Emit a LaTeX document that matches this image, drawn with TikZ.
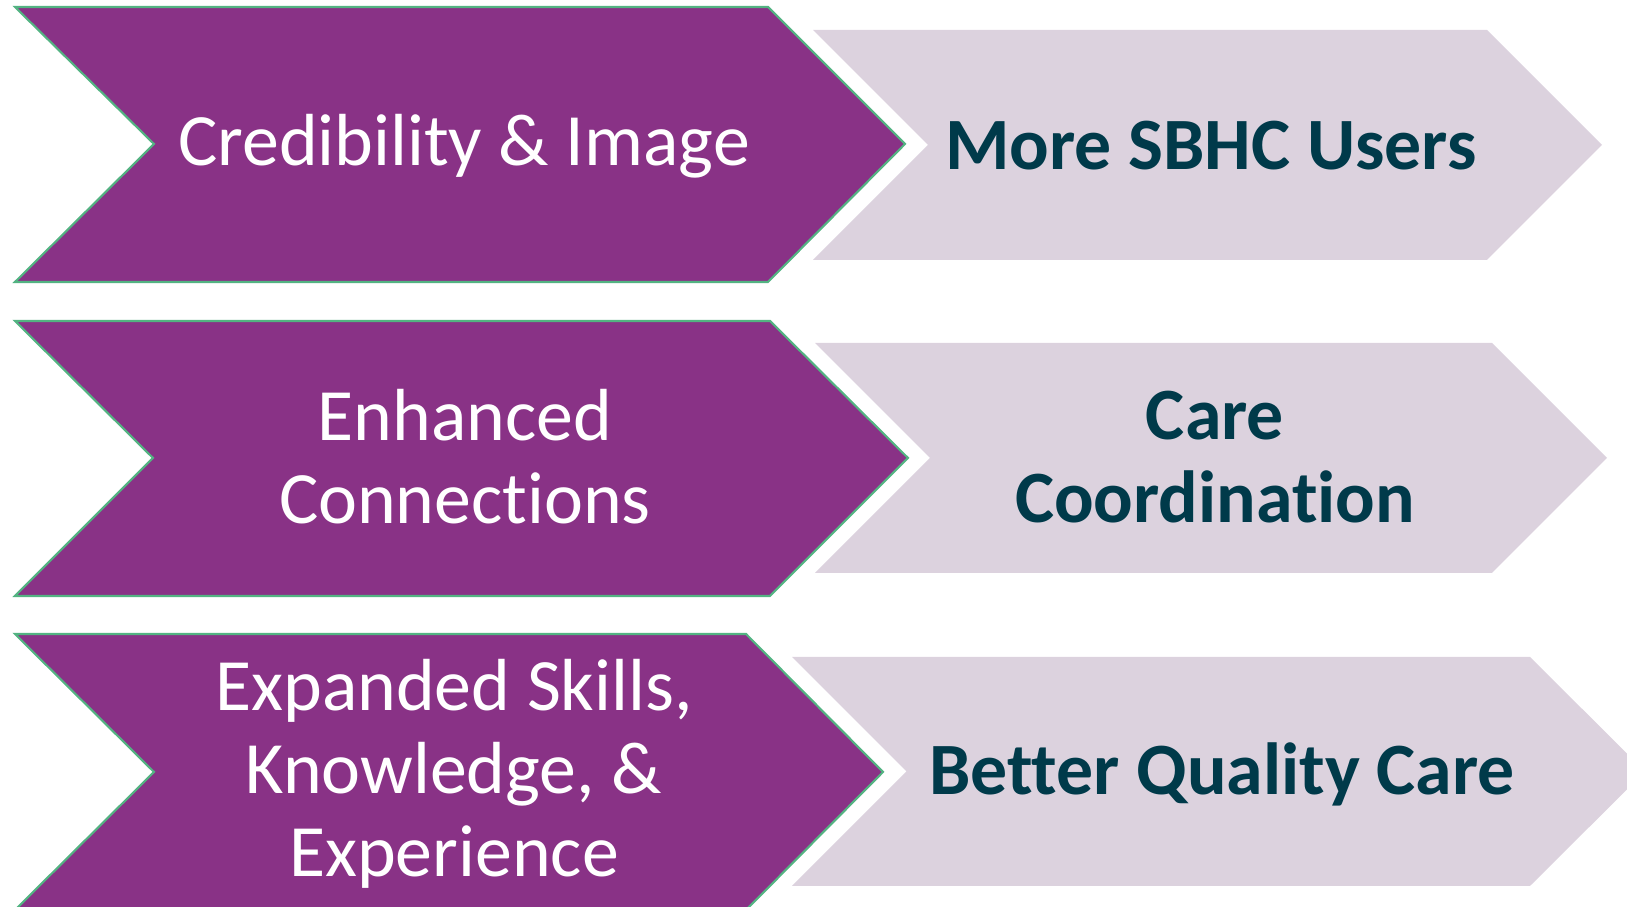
\documentclass[tikz,border=0pt]{standalone}
\usepackage{fontspec}
\setmainfont{Carlito}[Ligatures={NoCommon}]
\definecolor{chevpurple}{rgb}{0.5372549019607843,0.19607843137254902,0.5254901960784314}
\definecolor{chevlilac}{rgb}{0.8627450980392157,0.8235294117647058,0.8705882352941177}
\definecolor{chevgreen}{rgb}{0.3254901960784314,0.7019607843137254,0.5098039215686274}
\definecolor{darkteal}{rgb}{0.0,0.22745098039215686,0.2901960784313726}

\begin{document}
\begin{tikzpicture}[line cap=round,line join=miter,x=1.0cm,y=1.0cm]
\useasboundingbox (0.,0.) rectangle (16.27,9.07);
\clip (0.,0.) rectangle (16.27,9.07);
\draw [fill=chevpurple,draw=chevgreen,line width=0.6pt] (0.15,9.)-- (7.68,9.)-- (9.05,7.63)-- (7.68,6.25)-- (0.15,6.25)-- (1.54,7.63)-- cycle;
\fill [chevlilac] (8.13,8.77)-- (14.87,8.77)-- (16.02,7.62)-- (14.87,6.47)-- (8.13,6.47)-- (9.28,7.62)-- cycle;
\draw [fill=chevpurple,draw=chevgreen,line width=0.6pt] (0.15,5.86)-- (7.70,5.86)-- (9.08,4.49)-- (7.70,3.11)-- (0.15,3.11)-- (1.53,4.49)-- cycle;
\fill [chevlilac] (8.15,5.64)-- (14.92,5.64)-- (16.07,4.49)-- (14.92,3.34)-- (8.15,3.34)-- (9.30,4.49)-- cycle;
\draw [fill=chevpurple,draw=chevgreen,line width=0.6pt] (0.15,2.73)-- (7.46,2.73)-- (8.83,1.35)-- (7.46,-0.03)-- (0.15,-0.03)-- (1.54,1.35)-- cycle;
\fill [chevlilac] (7.92,2.50)-- (15.30,2.50)-- (16.45,1.355)-- (15.30,0.21)-- (7.92,0.21)-- (9.065,1.355)-- cycle;
\begin{scope}[every node/.style={align=center,font=\fontsize{21}{23.6}\selectfont}]
\node[text=white] (cred) at (4.64,7.61) {Credibility \& Image};
\node[text=darkteal,font=\fontsize{21}{23.6}\selectfont\bfseries] (users) at (12.11,7.61) {More SBHC Users};
\node[text=white] (conn) at (4.65,4.50) {Enhanced\\Connections};
\node[text=darkteal,font=\fontsize{21}{23.6}\selectfont\bfseries] (coord) at (12.15,4.50) {Care\\Coordination};
\node[text=white] (skills) at (4.54,1.33) {Expanded Skills,\\Knowledge, \&\\Experience};
\node[text=darkteal,font=\fontsize{21}{23.6}\selectfont\bfseries] (quality) at (12.22,1.33) {Better Quality Care};
\end{scope}
\end{tikzpicture}
\end{document}
